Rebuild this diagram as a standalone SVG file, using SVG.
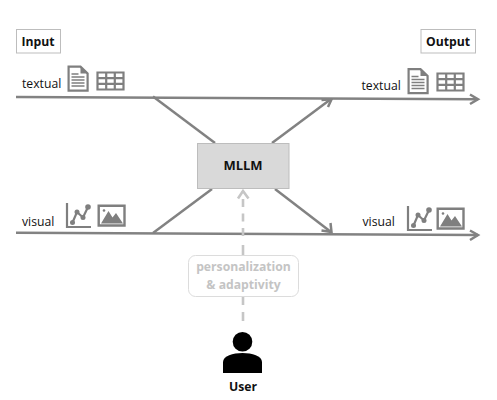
<svg xmlns="http://www.w3.org/2000/svg" width="497" height="400" viewBox="0 0 497 400">
<style>
text{font-family:"Open Sans","Noto Sans","Liberation Sans",sans-serif;font-size:12.200px;fill:#111}
.b{font-weight:700}
.c{text-anchor:middle}
.lab{fill:#fff;stroke:#bdbdbd;stroke-width:1}
.ln{fill:none;stroke:#828282;stroke-width:2.500}
.ah{fill:none;stroke:#828282;stroke-width:2.500}
.ic{fill:none;stroke:#7f7f7f;stroke-width:2.200}
.if{fill:#7f7f7f;stroke:none}
.d{fill:none;stroke:#c6c6c6;stroke-width:2.600}
</style>
<defs>
<g id="doc"><path class="ic" d="M1.100 1.100H13L20.100 8V25.100H1.100Z"/><path class="if" d="M13 1L20 8H13Z"/><path d="M4 8.500H11M4 11.500H17M4 14.500H17M4 17.500H17M4 20.500H17" stroke="#7f7f7f" stroke-width="1.700" fill="none"/></g>
<g id="tbl"><path class="ic" d="M1 1H27V18H1ZM1 6.700H27M1 12.300H27M9.700 1V18M18.300 1V18"/></g>
<g id="chart"><path class="ic" d="M1 0V24H25"/><path class="ic" d="M6.500 19.500L11 9L17 14.500L22 4"/><circle class="if" cx="6.500" cy="19.500" r="2.500"/><circle class="if" cx="11" cy="9" r="2.500"/><circle class="if" cx="17" cy="14.500" r="2.500"/><circle class="if" cx="22" cy="4" r="2.800"/></g>
<g id="pic"><path class="ic" d="M1.200 1.200H27V21H1.200Z" style="stroke-width:2.400"/><path class="if" d="M3.500 19L11 6.500L15 13L18.500 8.500L25.500 19Z"/><circle class="if" cx="6.500" cy="6" r="1.300"/></g>
</defs>
<g id="connectors">
<path class="ln" d="M16 97L478 99.300"/>
<path class="ln" d="M16 232.700L478 235"/>
<path class="ln" d="M153 96.500L215 143"/>
<path class="ln" d="M272 143L331 99"/>
<path class="ln" d="M153 233L212 189"/>
<path class="ln" d="M275 189L331 232"/>
<path class="ah" d="M321.500 100L331.500 99.300L328 107"/>
<path class="ah" d="M330.500 223L331.500 232L321.500 230.500"/>
<path class="ah" d="M470 94.500L478 99.300L470 104"/>
<path class="ah" d="M470 230.500L478 235L470 240"/>
<path class="d" d="M243 191V237" stroke-dasharray="8 6.500" stroke-dashoffset="-8"/>
<path class="d" d="M238 198.500L243 191L248.500 198.500"/>
<path class="d" d="M243 245V255M243 297V305M243 312V321"/>
</g>
<g id="input"><rect class="lab" x="16.500" y="29.500" width="44" height="23.500"/><text class="b c" x="38" y="45.500">Input</text></g>
<g id="output"><rect class="lab" x="421" y="29.500" width="54.500" height="23.500"/><text class="b c" x="448" y="45.500">Output</text></g>
<g id="textual-in"><text x="22" y="88">textual</text><use href="#doc" x="67.500" y="65.500"/><use href="#tbl" x="96.500" y="71.500"/></g>
<g id="textual-out"><text x="361.500" y="90">textual</text><use href="#doc" x="407.500" y="68"/><use href="#tbl" x="436.500" y="72.500"/></g>
<g id="visual-in"><text x="22" y="226">visual</text><use href="#chart" x="66" y="203"/><use href="#pic" x="97.500" y="204.500"/></g>
<g id="visual-out"><text x="362.500" y="226">visual</text><use href="#chart" x="407" y="206"/><use href="#pic" x="436.500" y="207.500"/></g>
<g id="mllm"><rect x="197.500" y="143.500" width="91.500" height="45" fill="#d9d9d9" stroke="#bdbdbd"/><text class="b c" x="243" y="170" style="font-size:13px">MLLM</text></g>
<g id="personalization"><rect x="188.500" y="255.500" width="110" height="41" rx="7" fill="#fff" stroke="#dcdcdc"/><text class="b c" x="243.500" y="271" style="fill:#c4c4c4">personalization</text><text class="b c" x="243.500" y="289" style="fill:#c4c4c4">&amp; adaptivity</text></g>
<g id="user"><circle cx="242.500" cy="341.700" r="9.800" fill="#000"/><path d="M223 373V362C223 356 233 353 242.500 353C252 353 262 356 262 362V373Z" fill="#000"/><text class="b c" x="243" y="391">User</text></g>
</svg>
